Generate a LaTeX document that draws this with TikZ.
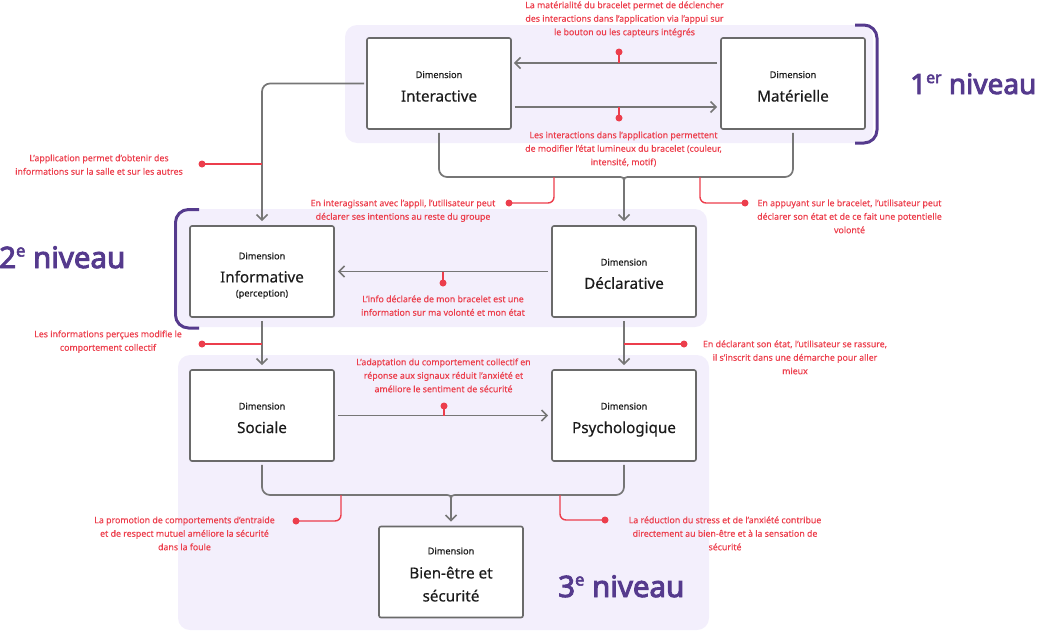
\documentclass[tikz,border=0pt]{standalone}
\usepackage{fontspec}
\setmainfont{Noto Sans}[FakeBold=0.35]
\newfontfamily\lvlfont{Noto Sans}[FakeBold=3.2]
\usetikzlibrary{arrows.meta}
\definecolor{annred}{HTML}{EC3E4C}
\definecolor{purp}{HTML}{553A8D}
\definecolor{bgcol}{HTML}{F3EFFC}
\definecolor{conncol}{HTML}{767676}
\definecolor{boxcol}{HTML}{6A6A6A}
\definecolor{ink}{HTML}{1C1C1C}
\newcommand\annstrut{\rule{0pt}{8pt}}
\newcommand\lvlsup[1]{\raisebox{0.39em}{\fontsize{0.56em}{0.56em}\selectfont #1}}
\tikzset{
  conn/.style={draw=conncol, line width=1.7pt},
  arr/.style={conn, -{Straight Barb[length=5.5pt,width=11pt]}},
  dimbox/.style={draw=boxcol, line width=1.6pt, fill=white, rounded corners=2pt,
    minimum width=144pt, minimum height=91pt, inner sep=0pt},
  dimsmall/.style={font=\fontsize{9.2}{11}\selectfont, text=ink, anchor=base, inner sep=0pt},
  dimbig/.style={font=\fontsize{15.2}{18}\selectfont, text=ink, anchor=base, inner sep=0pt},
  anntext/.style={font=\fontsize{8.8}{13.5}\selectfont, text=annred, align=center, anchor=north, inner sep=0pt},
  annline/.style={draw=annred, line width=1.4pt, rounded corners=6pt},
  lvlbg/.style={fill=bgcol, rounded corners=12pt},
  brk/.style={draw=purp, line width=3pt, rounded corners=13pt},
  lvltxt/.style={font=\lvlfont\fontsize{29.5}{31}\selectfont, text=purp, anchor=base west, inner sep=0pt}
}
\begin{document}
\begin{tikzpicture}[x=1pt,y=-1pt]
\useasboundingbox (0,0) rectangle (1040,632);

% level backgrounds
\fill[lvlbg] (345,25) rectangle (873,143);
\fill[lvlbg] (178,209) rectangle (707,327);
\fill[lvlbg] (178,355) rectangle (709,630);

% brackets
\draw[brk] (855,25) -- (877,25) -- (877,143) -- (855,143);
\draw[brk] (199,209.5) -- (175.5,209.5) -- (175.5,328) -- (199,328);

% level labels
\node[lvltxt, font=\lvlfont\fontsize{28}{30}\selectfont] (n1) at (910,94) {1\lvlsup{er} niveau};
\node[lvltxt] (n2) at (-1,268) {2\lvlsup{e} niveau};
\node[lvltxt] (n3) at (558,597) {3\lvlsup{e} niveau};

% boxes
\node[dimbox] (inter) at (439,83.5) {};
\node[dimbox] (mat) at (793,83.5) {};
\node[dimbox] (info) at (262,271.5) {};
\node[dimbox] (decl) at (624,271.5) {};
\node[dimbox] (soc) at (262,415.5) {};
\node[dimbox] (psy) at (624,415.5) {};
\node[dimbox] (bien) at (451,572) {};

% box texts
\node[dimsmall] (inter-d) at ([yshift=5.5pt]inter.center) {Dimension};
\node[dimbig] (inter-t) at ([yshift=-18pt]inter.center) {Interactive};
\node[dimsmall] (mat-d) at ([yshift=5.5pt]mat.center) {Dimension};
\node[dimbig] (mat-t) at ([yshift=-18pt]mat.center) {Matérielle};
\node[dimsmall] (info-d) at ([yshift=12.2pt]info.center) {Dimension};
\node[dimbig] (info-t) at ([yshift=-10.9pt]info.center) {Informative};
\node[dimsmall] (info-p) at ([yshift=-25pt]info.center) {(perception)};
\node[dimsmall] (decl-d) at ([yshift=6pt]decl.center) {Dimension};
\node[dimbig] (decl-t) at ([yshift=-17.3pt]decl.center) {Déclarative};
\node[dimsmall] (soc-d) at ([yshift=6pt]soc.center) {Dimension};
\node[dimbig] (soc-t) at ([yshift=-17.5pt]soc.center) {Sociale};
\node[dimsmall] (psy-d) at ([yshift=6pt]psy.center) {Dimension};
\node[dimbig] (psy-t) at ([yshift=-17.5pt]psy.center) {Psychologique};
\node[dimsmall] (bien-d) at ([yshift=17.7pt]bien.center) {Dimension};
\node[dimbig] (bien-t1) at ([yshift=-6.4pt]bien.center) {Bien-être et};
\node[dimbig] (bien-t2) at ([yshift=-29.4pt]bien.center) {sécurité};

% connectors
\draw[arr, shorten <=3pt, shorten >=2pt] ([yshift=20.5pt]mat.west) -- ([yshift=20.5pt]inter.east);
\draw[arr, shorten <=3pt, shorten >=3pt] ([yshift=-23.5pt]inter.east) -- ([yshift=-23.5pt]mat.west);
\draw[arr, rounded corners=8pt, shorten <=2pt, shorten >=4pt] (inter.west) -| (info.north);

\coordinate (j1) at (decl.north |- 0,177);
\draw[conn, rounded corners=8pt] ([yshift=-3pt]inter.south) |- ([xshift=-7pt]j1);
\draw[conn, rounded corners=8pt] ([yshift=-3pt]mat.south) |- ([xshift=7pt]j1);
\draw[arr, shorten >=4pt] ([xshift=-7pt]j1) .. controls (j1) .. ([yshift=-7pt]j1) -- (decl.north);
\draw[conn] ([xshift=7pt]j1) .. controls (j1) .. ([yshift=-7pt]j1);

\draw[arr, shorten <=3pt, shorten >=3pt] (decl.west) -- (info.east);
\draw[arr, shorten <=3pt, shorten >=4pt] (info.south) -- (soc.north);
\draw[arr, shorten <=3pt, shorten >=4pt] (decl.south) -- (psy.north);
\draw[arr, shorten <=3pt, shorten >=3pt] (soc.east) -- (psy.west);

\coordinate (j2) at (bien.north |- 0,495);
\draw[conn, rounded corners=8pt] ([yshift=-3pt]soc.south) |- ([xshift=-7pt]j2);
\draw[conn, rounded corners=8pt] ([yshift=-3pt]psy.south) |- ([xshift=7pt]j2);
\draw[arr, shorten >=4pt] ([xshift=-7pt]j2) .. controls (j2) .. ([yshift=-7pt]j2) -- (bien.north);
\draw[conn] ([xshift=7pt]j2) .. controls (j2) .. ([yshift=-7pt]j2);

% annotation leaders
\coordinate (d1) at (619,52);
\coordinate (d2) at (619,118);
\coordinate (d3) at (202,164);
\coordinate (d4) at (509,203);
\coordinate (d5) at (745,203);
\coordinate (d6) at (443,283);
\coordinate (d7) at (202,344);
\coordinate (d8) at (684,344);
\coordinate (d9) at (444,406);
\coordinate (d10) at (296,521);
\coordinate (d11) at (605,520);
\draw[annline] (d1) -- (d1 |- 0,63);
\draw[annline] (d2) -- (d2 |- 0,107);
\draw[annline] (d3) -- (d3 -| info.north);
\draw[annline] (d4) -| (554,177);
\draw[annline] (d5) -| (700,177);
\draw[annline] (d6) -- (d6 |- decl.west);
\draw[annline] (d7) -- (d7 -| soc.north);
\draw[annline] (d8) -- (d8 -| decl.south);
\draw[annline] (d9) -- (d9 |- soc.east);
\draw[annline] (d10) -| (341,495);
\draw[annline] (d11) -| (560,495);
\foreach \d in {d1,d2,d3,d4,d5,d6,d7,d8,d9,d10,d11}
  \fill[annred] (\d) circle (3.5pt);

% annotation texts
\node[anntext] (t1) at (624.5,0) {\annstrut La matérialité du bracelet permet de déclencher\\des interactions dans l'application via l'appui sur\\le bouton ou les capteurs intégrés};
\node[anntext] (t2) at (623.5,130) {\annstrut Les interactions dans l'application permettent\\de modifier l'état lumineux du bracelet (couleur,\\intensité, motif)};
\node[anntext] (t3) at (99,153) {\annstrut L’application permet d’obtenir des\\informations sur la salle et sur les autres};
\node[anntext] (t4) at (403,198) {\annstrut En interagissant avec l’appli, l’utilisateur peut\\déclarer ses intentions au reste du groupe};
\node[anntext] (t5) at (849.5,198) {\annstrut En appuyant sur le bracelet, l’utilisateur peut\\déclarer son état et de ce fait une potentielle\\volonté};
\node[anntext] (t6) at (443,294) {\annstrut L’info déclarée de mon bracelet est une\\information sur ma volonté et mon état};
\node[anntext] (t7) at (108,329) {\annstrut Les informations perçues modifie le\\comportement collectif};
\node[anntext] (t8) at (795,339) {\annstrut En déclarant son état, l’utilisateur se rassure,\\il s’inscrit dans une démarche pour aller\\mieux};
\node[anntext] (t9) at (443.5,357) {\annstrut L'adaptation du comportement collectif en\\réponse aux signaux réduit l'anxiété et\\améliore le sentiment de sécurité};
\node[anntext] (t10) at (184.5,515) {\annstrut La promotion de comportements d'entraide\\et de respect mutuel améliore la sécurité\\dans la foule};
\node[anntext] (t11) at (725,515) {\annstrut La réduction du stress et de l'anxiété contribue\\directement au bien-être et à la sensation de\\sécurité};
\end{tikzpicture}
\end{document}
